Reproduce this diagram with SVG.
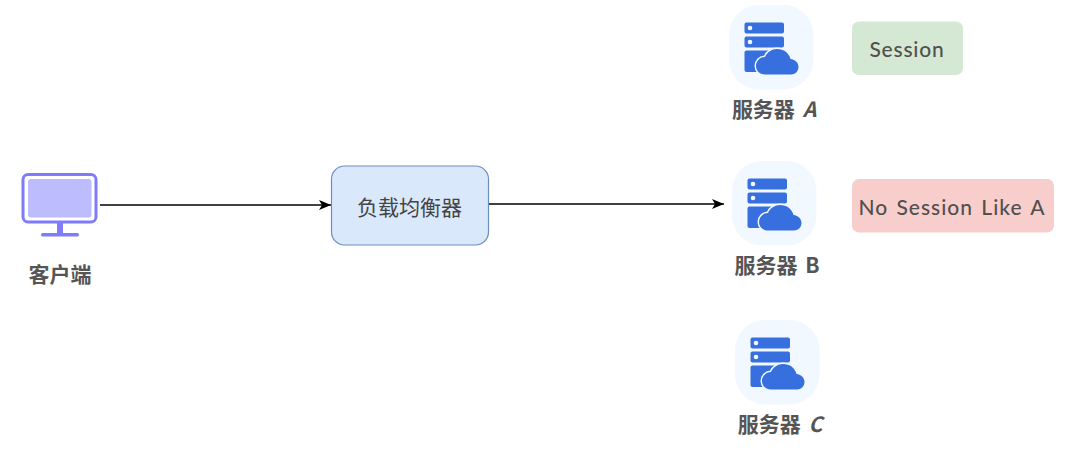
<svg xmlns="http://www.w3.org/2000/svg" width="1080" height="449" viewBox="0 0 1080 449">
<style>
.lbl{font-family:"Noto Sans CJK SC","Liberation Sans",sans-serif;font-size:21px;font-weight:700;fill:#555;text-anchor:middle;word-spacing:3px}
.tag{font-family:"Lato","Liberation Sans","Noto Sans CJK SC",sans-serif;font-size:21px;font-weight:500;fill:#505050;text-anchor:middle;letter-spacing:1px}
.line{fill:none;stroke:#000;stroke-width:1.3}
.blue{fill:#376fdf}
</style>
<defs>
<marker id="arrow" markerUnits="userSpaceOnUse" markerWidth="13" markerHeight="13" refX="12" refY="6.500" orient="auto"><path d="M0 1.500L12 6.500L0 11.500L3 6.500Z" fill="#000"/></marker>
<symbol id="srv" width="85" height="85" viewBox="0 0 85 85" overflow="visible">
<rect x="0" y="0" width="84.500" height="84.500" rx="30" fill="#f1f8ff"/>
<rect class="blue" x="15.500" y="17.500" width="39.500" height="11" rx="2"/>
<circle cx="21" cy="23" r="2.300" fill="#f1f8ff"/>
<rect class="blue" x="15.500" y="31.500" width="39.500" height="11" rx="2"/>
<circle cx="21" cy="37" r="2.300" fill="#f1f8ff"/>
<path class="blue" d="M15.500 47.500a2 2 0 0 1 2-2H50V67H17.500a2 2 0 0 1-2-2Z"/>
<path class="blue" d="M36 69.500C30 69.500 27 65 27 61C27 56 31 52 36 52C38 47 43 44 48 44C55 44 60 48 61.500 54C66.500 54.500 69.500 58 69.500 62C69.500 66.500 66 69.500 62 69.500Z" stroke="#f1f8ff" stroke-width="3" paint-order="stroke"/>
</symbol>
</defs>
<rect width="1080" height="449" fill="#fff"/>
<g id="connectors">
<path class="line" d="M100 205H331" marker-end="url(#arrow)"/>
<path class="line" d="M489 204H724" marker-end="url(#arrow)"/>
</g>
<g id="client">
<rect x="23" y="174.500" width="73" height="47.500" rx="5" fill="#fff" stroke="#7f7bfb" stroke-width="3"/>
<rect x="28" y="179" width="63.500" height="38.500" rx="3" fill="#bcbcff"/>
<rect x="57" y="223" width="6" height="10" fill="#7f7bfb"/>
<rect x="41" y="233" width="38" height="3.500" rx="1.700" fill="#7f7bfb"/>
<text class="lbl" x="60" y="282">客户端</text>
</g>
<g id="balancer">
<rect x="331.500" y="166" width="157" height="79" rx="13" fill="#dae8fc" stroke="#6c8ebf" stroke-width="1.200"/>
<text x="409.500" y="215" text-anchor="middle" font-family="'Noto Sans CJK SC',sans-serif" font-size="21" fill="#444">负载均衡器</text>
</g>
<g id="server-a">
<use href="#srv" x="729" y="5"/>
<text class="lbl" x="774" y="117">服务器 <tspan font-style="italic">A</tspan></text>
</g>
<g id="server-b">
<use href="#srv" x="732" y="161"/>
<text class="lbl" x="777" y="273">服务器 B</text>
</g>
<g id="server-c">
<use href="#srv" x="735" y="320"/>
<text class="lbl" x="780" y="432">服务器 <tspan font-style="italic">C</tspan></text>
</g>
<g id="tag-session">
<rect x="852" y="21.500" width="111" height="53.500" rx="7" fill="#d5e8d4"/>
<text class="tag" x="907" y="57" style="letter-spacing:.8px">Session</text>
</g>
<g id="tag-no-session">
<rect x="852" y="179" width="202" height="53.500" rx="7" fill="#f8cecc"/>
<text class="tag" x="952" y="215" style="word-spacing:2px">No Session Like A</text>
</g>
</svg>
